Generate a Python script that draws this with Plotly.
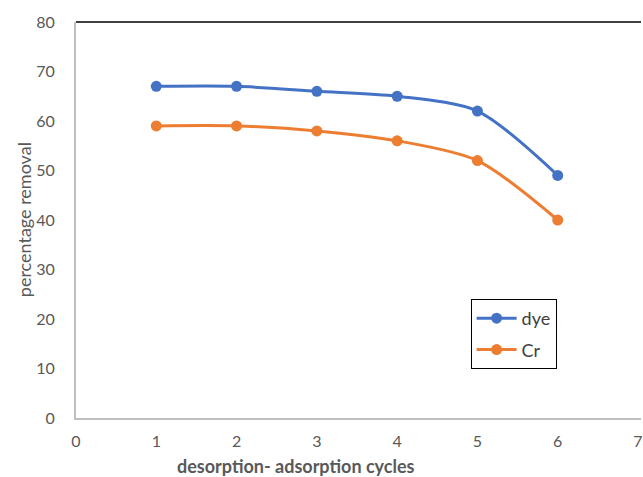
import plotly.graph_objects as go

cycles = [1, 2, 3, 4, 5, 6]
dye = [67, 67, 66, 65, 62, 49]
cr = [59, 59, 58, 56, 52, 40]
x_ticks = [0, 1, 2, 3, 4, 5, 6, 7]
y_ticks = [0, 10, 20, 30, 40, 50, 60, 70, 80]

font_family = "Lato, Open Sans, sans-serif"
tick_color = "#595959"

W, H = 643, 477
L, R, T, B = 76, 0, 22, 59

fig = go.Figure()
fig.add_trace(go.Scatter(
    x=cycles, y=dye, name="dye", mode="lines+markers", legendgroup="a",
    line=dict(color="#4472C4", width=3, shape="spline", smoothing=0.8),
    marker=dict(color="#4472C4", size=11, symbol="circle"),
))
fig.add_trace(go.Scatter(
    x=cycles, y=cr, name="Cr", mode="lines+markers", legendgroup="b",
    line=dict(color="#ED7D31", width=3, shape="spline", smoothing=0.8),
    marker=dict(color="#ED7D31", size=11, symbol="circle"),
))

fig.update_layout(
    width=W, height=H,
    margin=dict(l=L, r=R, t=T, b=B),
    paper_bgcolor="white", plot_bgcolor="white",
    font=dict(family=font_family, color=tick_color, size=16),
    showlegend=True,
    legend=dict(
        x=(472 - L) / (W - L - R), y=(H - B - 299) / (H - B - T),
        xanchor="left", yanchor="top",
        bordercolor="black", borderwidth=1, bgcolor="white",
        font=dict(size=18, color="#404040"),
        tracegroupgap=5, itemwidth=40,
    ),
    xaxis=dict(
        range=[0, 7 * (W - L) / (640 - L)],
        tickvals=x_ticks, ticktext=[str(v) for v in x_ticks],
        ticklabeloverflow="allow",
        showgrid=False, zeroline=False,
        showline=True, linecolor="#BFBFBF", linewidth=2,
        ticks="outside", ticklen=8, tickcolor="rgba(0,0,0,0)",
        tickfont=dict(size=16, color=tick_color),
    ),
    yaxis=dict(
        range=[0, 80],
        tickvals=y_ticks,
        showgrid=False, zeroline=False,
        showline=True, linecolor="#BFBFBF", linewidth=2,
        ticks="outside", ticklen=16, tickcolor="rgba(0,0,0,0)",
        tickfont=dict(size=16, color=tick_color),
    ),
)

# axis titles
fig.add_annotation(
    text="<b>desorption- adsorption cycles</b>", xref="paper", yref="paper",
    x=(297 - L) / (W - L - R), y=-(466 - (H - B)) / (H - B - T),
    xanchor="center", yanchor="middle", showarrow=False,
    font=dict(size=18, color=tick_color),
)
fig.add_annotation(
    text="percentage removal", xref="paper", yref="paper",
    x=-(L - 24) / (W - L - R), y=0.5, textangle=-90,
    xanchor="center", yanchor="middle", showarrow=False,
    font=dict(size=18, color=tick_color),
)

# black frame line along the top of the plot area
fig.add_shape(type="line", xref="paper", yref="paper",
              x0=0, x1=1, y0=1, y1=1,
              line=dict(color="black", width=1.5))

fig.write_html("out.html")
